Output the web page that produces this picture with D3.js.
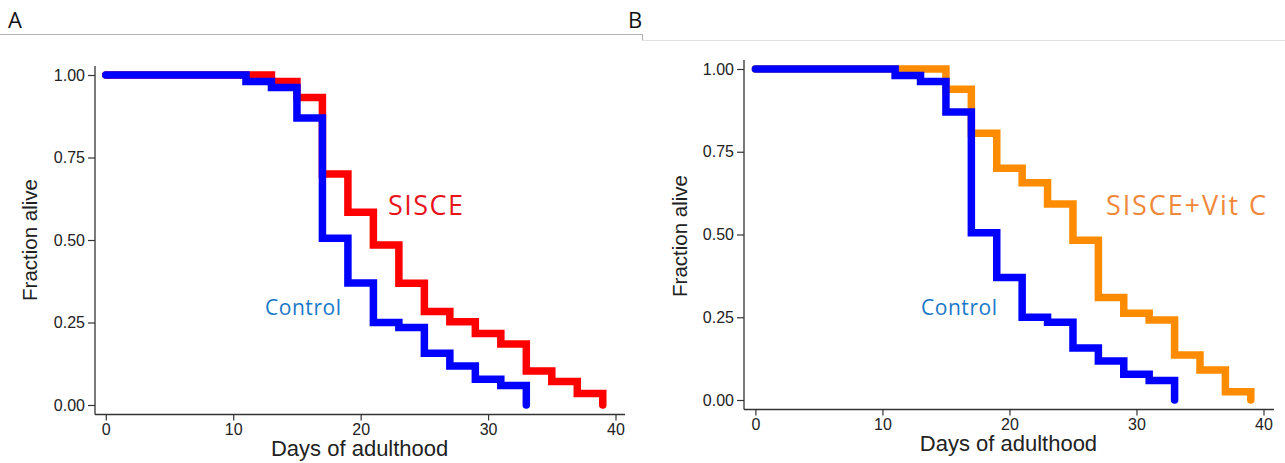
<!DOCTYPE html>
<html>
<head>
<meta charset="utf-8">
<script src="https://cdn.jsdelivr.net/npm/d3@7"></script>
<style>
  html, body { margin: 0; padding: 0; background: #fff; }
  svg { display: block; }
  .tick text { font-family: "Liberation Sans", Arial, sans-serif; font-size: 16px; fill: #222; }
  .tick line { stroke: #333; stroke-width: 1.2; }
</style>
</head>
<body>
<div id="chart"></div>
<script>
// Survival data (Kaplan-Meier steps)
var controlDays   = [0, 11, 13, 15, 17, 19, 21, 23, 25, 27, 29, 31, 33];
var controlFrac   = [1, 0.98, 0.962, 0.87, 0.505, 0.37, 0.25, 0.235, 0.157, 0.118, 0.078, 0.059, 0];

var sisceDays     = [0, 13, 15, 17, 19, 21, 23, 25, 27, 29, 31, 33, 35, 37, 39];
var sisceFrac     = [1, 0.98, 0.932, 0.70, 0.584, 0.485, 0.369, 0.283, 0.252, 0.217, 0.185, 0.103, 0.071, 0.035, 0];

var vitcDays      = [0, 15, 17, 19, 21, 23, 25, 27, 29, 31, 33, 35, 37, 39];
var vitcFrac      = [1, 0.939, 0.806, 0.70, 0.656, 0.592, 0.483, 0.31, 0.262, 0.242, 0.136, 0.091, 0.025, 0];

var xTicks = [0, 10, 20, 30, 40];
var yTicks = [0, 0.25, 0.5, 0.75, 1];

var width = 1285, height = 463;

var svg = d3.select("#chart").append("svg")
    .attr("width", width)
    .attr("height", height);

// panel header rules
svg.append("path")
    .attr("d", "M0,34.5H642.5V40.5")
    .attr("fill", "none").attr("stroke", "#b5b5b5").attr("stroke-width", 1.2);
svg.append("line")
    .attr("x1", 642.5).attr("x2", width).attr("y1", 40.5).attr("y2", 40.5)
    .attr("stroke", "#e2e2e2").attr("stroke-width", 1.2);

svg.append("text").attr("x", 8).attr("y", 28).text("A")
    .style("font-family", "'Open Sans', sans-serif").style("font-size", "22px").attr("fill", "#111");
svg.append("text").attr("x", 628).attr("y", 28).text("B")
    .style("font-family", "'Open Sans', sans-serif").style("font-size", "22px").attr("fill", "#111");

function zip(days, frac) {
    return days.map(function (d, i) { return {day: d, frac: frac[i]}; });
}

/**
 * Draws one survival panel.
 * p holds the pixel frame of the panel and the series to plot.
 */
function drawPanel(p) {
    var g = svg.append("g");

    var xScale = d3.scaleLinear().domain([0, 40]).range([p.x0, p.x40]);
    var yScale = d3.scaleLinear().domain([0, 1]).range([p.y0, p.y1]);

    // spines
    g.append("line")
        .attr("x1", p.axisX).attr("x2", p.axisX)
        .attr("y1", p.axisTop).attr("y2", p.axisY)
        .attr("stroke", "#333").attr("stroke-width", 1.3);
    g.append("line")
        .attr("x1", p.axisX).attr("x2", p.axisRight)
        .attr("y1", p.axisY).attr("y2", p.axisY)
        .attr("stroke", "#333").attr("stroke-width", 1.3);

    var yAxis = d3.axisLeft(yScale).tickValues(yTicks)
        .tickFormat(d3.format(".2f")).tickSize(7).tickPadding(3);
    var xAxis = d3.axisBottom(xScale).tickValues(xTicks)
        .tickFormat(d3.format("d")).tickSize(6).tickPadding(3);

    g.append("g").attr("class", "axis y-axis")
        .attr("transform", "translate(" + p.axisX + ",0)")
        .call(yAxis)
        .call(function (s) { s.select(".domain").remove(); });
    g.append("g").attr("class", "axis x-axis")
        .attr("transform", "translate(0," + p.axisY + ")")
        .call(xAxis)
        .call(function (s) { s.select(".domain").remove(); });

    // axis titles
    g.append("text")
        .attr("x", (p.x0 + p.x40) / 2 - 1).attr("y", p.xTitleY)
        .attr("text-anchor", "middle")
        .style("font-family", "'Liberation Sans', Arial, sans-serif")
        .style("font-size", "22px").attr("fill", "#222")
        .text("Days of adulthood");
    g.append("text")
        .attr("transform", "translate(" + p.yTitleX + "," + p.yTitleY + ") rotate(-90)")
        .attr("text-anchor", "middle")
        .style("font-family", "'Liberation Sans', Arial, sans-serif")
        .style("font-size", "20.5px").attr("fill", "#222")
        .text("Fraction alive");

    var line = d3.line()
        .curve(d3.curveStepAfter)
        .x(function (d) { return xScale(d.day); })
        .y(function (d) { return yScale(d.frac); });

    // treatment first, control drawn on top
    _draw(p.treatment, p.treatColor);
    _draw(zip(controlDays, controlFrac), "#0000ff");

    function _draw(data, color) {
        g.append("path")
            .datum(data)
            .attr("d", line)
            .attr("fill", "none")
            .attr("stroke", color)
            .attr("stroke-width", 7.5)
            .attr("stroke-linejoin", "miter")
            .attr("stroke-linecap", "round");
    }

    // in-plot labels
    g.append("text")
        .attr("x", p.treatLabel[0]).attr("y", p.treatLabel[1])
        .style("font-family", "'Open Sans', sans-serif")
        .style("font-size", "27px")
        .attr("textLength", p.treatLabel[2]).attr("lengthAdjust", "spacing")
        .attr("fill", p.treatTextColor)
        .text(p.treatName);
    g.append("text")
        .attr("x", p.ctrlLabel[0]).attr("y", p.ctrlLabel[1])
        .style("font-family", "'Open Sans', sans-serif")
        .style("font-size", "21px")
        .attr("textLength", 76).attr("lengthAdjust", "spacing")
        .attr("fill", "#1a78c8")
        .text("Control");
}

drawPanel({
    x0: 105.8, x40: 615.5, y0: 405, y1: 75,
    axisX: 95, axisY: 414.5, axisTop: 66, axisRight: 625,
    xTitleY: 456, yTitleX: 37, yTitleY: 240,
    treatment: zip(sisceDays, sisceFrac),
    treatColor: "#ff0000", treatTextColor: "#e8141c",
    treatName: "SISCE", treatLabel: [388, 215, 75], ctrlLabel: [265, 315]
});

drawPanel({
    x0: 755.4, x40: 1263.5, y0: 400, y1: 69,
    axisX: 744, axisY: 409.5, axisTop: 60, axisRight: 1274,
    xTitleY: 451, yTitleX: 687, yTitleY: 236,
    treatment: zip(vitcDays, vitcFrac),
    treatColor: "#ff8c00", treatTextColor: "#f0883c",
    treatName: "SISCE+Vit C", treatLabel: [1106, 215, 160], ctrlLabel: [921, 315]
});
</script>
</body>
</html>
